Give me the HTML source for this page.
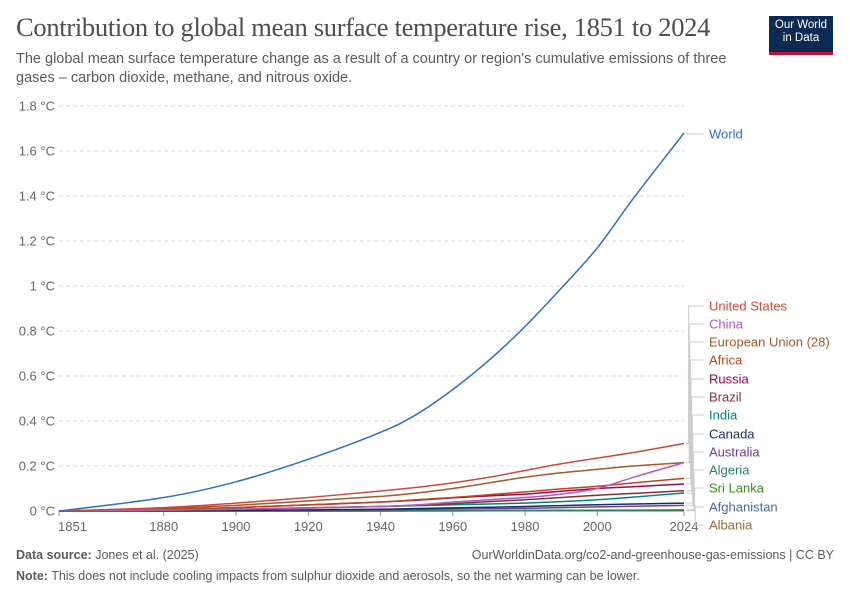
<!DOCTYPE html>
<html><head><meta charset="utf-8"><style>
body{margin:0;background:#fff;font-family:"Liberation Sans",sans-serif;}
#wrap{position:relative;width:850px;height:600px;overflow:hidden;}
.t{position:absolute;white-space:nowrap;}
</style></head><body>
<div id="wrap">
<div class="t" style="left:16px;top:12px;font-family:'Liberation Serif',serif;font-size:26.5px;color:#4e4e4e;letter-spacing:-0.3px;">Contribution to global mean surface temperature rise, 1851 to 2024</div>
<div class="t" style="left:16px;top:50px;font-size:14.5px;color:#5b5b5b;line-height:19px;white-space:normal;width:740px;">The global mean surface temperature change as a result of a country or region's cumulative emissions of three gases – carbon dioxide, methane, and nitrous oxide.</div>
<div style="position:absolute;left:769px;top:16px;width:64px;background:#0d2a52;border-bottom:3px solid #c8102e;color:#fff;font-size:11.5px;line-height:13px;text-align:center;padding-top:3px;height:33px;">Our World<br>in Data</div>
<svg id="chart" width="850" height="600" style="position:absolute;left:0;top:0;"></svg>
<div class="t" style="left:16px;top:548px;font-size:12.5px;color:#5b5b5b;"><b>Data source:</b> Jones et al. (2025)</div>
<div class="t" style="right:16px;top:548px;font-size:12.5px;color:#5b5b5b;">OurWorldinData.org/co2-and-greenhouse-gas-emissions | CC BY</div>
<div class="t" style="left:16px;top:569px;font-size:12.5px;color:#5b5b5b;"><b>Note:</b> This does not include cooling impacts from sulphur dioxide and aerosols, so the net warming can be lower.</div>
</div>
<script>
const years=[1851,1880,1900,1920,1940,1950,1960,1970,1980,1990,2000,2010,2024];
const seriesNames=["World","United States","China","European Union (28)","Africa","Russia","Brazil","India","Canada","Australia","Algeria","Sri Lanka","Afghanistan","Albania"];
const world=[0,0.06,0.13,0.23,0.35,0.43,0.54,0.67,0.82,0.99,1.17,1.39,1.68];
const us=[0,0.015,0.035,0.06,0.089,0.105,0.125,0.15,0.18,0.21,0.235,0.26,0.30];
const china=[0,0.004,0.008,0.013,0.02,0.027,0.04,0.05,0.06,0.075,0.1,0.15,0.215];
const eu=[0,0.012,0.025,0.045,0.065,0.08,0.1,0.125,0.15,0.17,0.185,0.2,0.215];
const africa=[0,0.008,0.015,0.027,0.04,0.05,0.06,0.072,0.085,0.098,0.11,0.125,0.145];
const russia=[0,0.008,0.015,0.027,0.04,0.048,0.058,0.067,0.075,0.088,0.1,0.108,0.12];
const brazil=[0,0.004,0.008,0.014,0.02,0.026,0.033,0.042,0.05,0.06,0.07,0.078,0.09];
const india=[0,0.004,0.008,0.014,0.02,0.024,0.028,0.031,0.035,0.042,0.05,0.062,0.08];
const canada=[0,0.001,0.003,0.005,0.008,0.011,0.014,0.017,0.02,0.024,0.028,0.031,0.035];
const australia=[0,0.001,0.002,0.004,0.006,0.007,0.009,0.01,0.012,0.015,0.018,0.021,0.025];
const algeria=[0,0,0,0.001,0.001,0.001,0.002,0.002,0.003,0.003,0.004,0.004,0.005];
const srilanka=[0,0,0,0,0.001,0.001,0.001,0.001,0.001,0.001,0.002,0.002,0.002];
const afghanistan=[0,0,0,0,0,0.001,0.001,0.001,0.001,0.001,0.002,0.002,0.002];
const albania=[0,0,0,0,0,0,0,0.001,0.001,0.001,0.001,0.001,0.001];
const yTicks=[0,0.2,0.4,0.6,0.8,1,1.2,1.4,1.6,1.8];
const yTickLabels=["0 °C","0.2 °C","0.4 °C","0.6 °C","0.8 °C","1 °C","1.2 °C","1.4 °C","1.6 °C","1.8 °C"];
const xTicks=[1851,1880,1900,1920,1940,1960,1980,2000,2024];
const colors=["#2f6fc9","#ce4b3b","#b35bbe","#a2592c","#c0451d","#a1074c","#883039","#00847e","#18305e","#6d3e91","#2c8465","#3a8d1e","#4c6a9c","#996d39"];
const data=[world,us,china,eu,africa,russia,brazil,india,canada,australia,algeria,srilanka,afghanistan,albania];
const labelY=[134,306,324,342,360,379,397,415,434,452,470,488,507,525];
const X0=59,X1=684,Y0=511,Y1=106;
const xS=y=>X0+(y-1851)/(2024-1851)*(X1-X0);
const yS=v=>Y0-v/1.8*(Y0-Y1);
const svg=document.getElementById('chart');
const NS="http://www.w3.org/2000/svg";
function mk(tag,attrs){const e=document.createElementNS(NS,tag);for(const k in attrs)e.setAttribute(k,attrs[k]);svg.appendChild(e);return e;}
function smooth(pts){let d='M'+pts[0][0].toFixed(1)+','+pts[0][1].toFixed(1);
 for(let i=0;i<pts.length-1;i++){const p0=pts[i-1]||pts[i],p1=pts[i],p2=pts[i+1],p3=pts[i+2]||p2;
  const c1=[p1[0]+(p2[0]-p0[0])/6,p1[1]+(p2[1]-p0[1])/6],c2=[p2[0]-(p3[0]-p1[0])/6,p2[1]-(p3[1]-p1[1])/6];
  d+='C'+c1[0].toFixed(1)+','+c1[1].toFixed(1)+' '+c2[0].toFixed(1)+','+c2[1].toFixed(1)+' '+p2[0].toFixed(1)+','+p2[1].toFixed(1);}
 return d;}
yTicks.forEach((v,i)=>{
 if(v>0){const g=mk('line',{x1:X0,x2:X1,y1:yS(v),y2:yS(v),stroke:'#ddd','stroke-dasharray':'4,3'});
 
 }
 const t=mk('text',{x:55,y:yS(v)+4.5,'text-anchor':'end','font-size':13,fill:'#666','font-family':'Liberation Sans, sans-serif'});
 t.textContent=yTickLabels[i];
 
 
});
const ax=mk('line',{x1:X0,x2:X1,y1:Y0,y2:Y0,stroke:'#999'});


xTicks.forEach(v=>{
 const tk=mk('line',{x1:xS(v),x2:xS(v),y1:Y0,y2:Y0+5,stroke:'#999'});
 
 
 const t=mk('text',{x:v==1851?xS(v)-1:xS(v),y:Y0+20,'text-anchor':v==1851?'start':'middle','font-size':13,fill:'#666','font-family':'Liberation Sans, sans-serif'});
 t.textContent=v;
 
 
});
for(let s=data.length-1;s>=0;s--){
 const d=smooth(data[s].map((v,i)=>[xS(years[i]),yS(v)]));
 const p=mk('path',{d:d,fill:'none',stroke:colors[s],'stroke-width':1.5});
 
 
}
data.forEach((arr,s)=>{
 const ey=yS(arr[arr.length-1]);
 const lx=688+ (s===0?0:Math.min(s,12)*0.6);
 const c=mk('path',{d:`M686,${ey}H${lx}V${labelY[s]}H704`,fill:'none',stroke:'#ccc','stroke-width':1});
 
 
 const t=mk('text',{x:709,y:labelY[s]+4.5,'font-size':13,fill:colors[s],'font-family':'Liberation Sans, sans-serif'});
 t.textContent=seriesNames[s];
 
 
});
</script>
</body></html>
